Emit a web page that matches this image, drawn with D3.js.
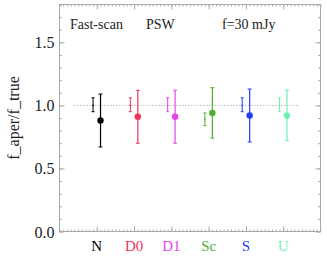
<!DOCTYPE html>
<html>
<head>
<meta charset="utf-8">
<script src="https://cdn.jsdelivr.net/npm/d3@7"></script>
<style>
  html, body { margin: 0; padding: 0; background: #fff; }
  svg { display: block; }
  text { font-family: "Liberation Serif", "Times New Roman", serif; }
</style>
</head>
<body>
<svg id="chart" width="327" height="257"></svg>
<script>
// ---- data ----
const categories = ["N", "D0", "D1", "Sc", "S", "U"];
const colors = ["#000000", "#f0325a", "#e845e8", "#4cb02a", "#1f3ef2", "#6ff0b4"];
// small (left) error bars
const smallVal = [1.00, 1.00, 1.00, 0.89, 1.00, 1.00];
const smallLo  = [0.95, 0.95, 0.95, 0.84, 0.95, 0.95];
const smallHi  = [1.06, 1.06, 1.06, 0.94, 1.06, 1.06];
// large (right) error bars with filled dot
const bigVal = [0.88, 0.91, 0.91, 0.94, 0.92, 0.92];
const bigLo  = [0.67, 0.70, 0.70, 0.74, 0.71, 0.72];
const bigHi  = [1.09, 1.12, 1.12, 1.14, 1.13, 1.12];
const yTicks = [0.0, 0.5, 1.0, 1.5];
const refLine = 1.0;
const annotations = ["Fast-scan", "PSW", "f=30 mJy"];

// ---- layout ----
const svg = d3.select("#chart");
const pL = 59.5, pR = 320.5, pT = 4.5, pB = 231.5;
const x = d3.scaleLinear().domain([0, 7]).range([pL, pR]);
const y = d3.scaleLinear().domain([0, 1.8]).range([pB, pT]);
const axisColor = "#aaaaaa";

// frame
svg.append("rect").attr("x", pL).attr("y", pT)
  .attr("width", pR - pL).attr("height", pB - pT)
  .attr("fill", "none").attr("stroke", axisColor).attr("stroke-width", 1);

function styleAxis(g) {
  g.select(".domain").remove();
  g.selectAll("line").attr("stroke", axisColor);
}
const yMinor = d3.range(0, 19).map(v => v / 10);
svg.append("g").attr("transform", `translate(${pL},0)`)
  .call(d3.axisRight(y).tickValues(yMinor).tickSize(2.5).tickFormat("")).call(styleAxis);
svg.append("g").attr("transform", `translate(${pL},0)`)
  .call(d3.axisRight(y).tickValues(yTicks).tickSize(5).tickFormat("")).call(styleAxis);
svg.append("g").attr("transform", `translate(${pR},0)`)
  .call(d3.axisLeft(y).tickValues(yMinor).tickSize(2.5).tickFormat("")).call(styleAxis);
svg.append("g").attr("transform", `translate(${pR},0)`)
  .call(d3.axisLeft(y).tickValues(yTicks).tickSize(5).tickFormat("")).call(styleAxis);

const xMinor = d3.range(0, 71).map(v => v / 10);
const xMajor = d3.range(1, 7);
svg.append("g").attr("transform", `translate(0,${pB})`)
  .call(d3.axisTop(x).tickValues(xMinor).tickSize(2).tickFormat("")).call(styleAxis);
svg.append("g").attr("transform", `translate(0,${pB})`)
  .call(d3.axisTop(x).tickValues(xMajor).tickSize(5).tickFormat("")).call(styleAxis);
svg.append("g").attr("transform", `translate(0,${pT})`)
  .call(d3.axisBottom(x).tickValues(xMinor).tickSize(2).tickFormat("")).call(styleAxis);
svg.append("g").attr("transform", `translate(0,${pT})`)
  .call(d3.axisBottom(x).tickValues(xMajor).tickSize(5).tickFormat("")).call(styleAxis);

// y tick labels
svg.append("g").selectAll("text").data(yTicks).join("text")
  .attr("x", pL - 5).attr("y", d => y(d) + 6)
  .attr("text-anchor", "end").attr("font-size", 16).attr("fill", "#222")
  .text(d => d.toFixed(1));

// x category labels
svg.append("g").selectAll("text").data(categories).join("text")
  .attr("x", (d, i) => x(i + 1)).attr("y", 251)
  .attr("text-anchor", "middle").attr("font-size", 15)
  .attr("fill", (d, i) => colors[i])
  .text(d => d);

// y axis title
svg.append("text")
  .attr("transform", `translate(19,${(pT + pB) / 2}) rotate(-90)`)
  .attr("text-anchor", "middle").attr("font-size", 16).attr("fill", "#222")
  .text("f_aper/f_true");

// reference dotted line
svg.append("line")
  .attr("x1", x(0.4)).attr("x2", x(6.4))
  .attr("y1", y(refLine)).attr("y2", y(refLine))
  .attr("stroke", "#999").attr("stroke-width", 1).attr("stroke-dasharray", "1,2");

// annotations
const annX = [70, 146, 222];
svg.append("g").selectAll("text").data(annotations).join("text")
  .attr("x", (d, i) => annX[i]).attr("y", 29)
  .attr("font-size", 14).attr("fill", "#222")
  .text(d => d);

// error bars
const off = 0.1, capS = 1.5, capB = 2;
categories.forEach((c, i) => {
  const g = svg.append("g").attr("stroke", colors[i]).attr("fill", colors[i]);
  const xs = x(i + 1 - off), xb = x(i + 1 + off);
  g.append("line").attr("x1", xs).attr("x2", xs).attr("y1", y(smallLo[i])).attr("y2", y(smallHi[i])).attr("stroke-width", 1);
  [smallLo[i], smallHi[i]].forEach(v => g.append("line")
    .attr("x1", xs - capS).attr("x2", xs + capS).attr("y1", y(v)).attr("y2", y(v)).attr("stroke-width", 1));
  g.append("circle").attr("cx", xs).attr("cy", y(smallVal[i])).attr("r", 0.8).attr("stroke", "none");
  g.append("line").attr("x1", xb).attr("x2", xb).attr("y1", y(bigLo[i])).attr("y2", y(bigHi[i])).attr("stroke-width", 1.2);
  [bigLo[i], bigHi[i]].forEach(v => g.append("line")
    .attr("x1", xb - capB).attr("x2", xb + capB).attr("y1", y(v)).attr("y2", y(v)).attr("stroke-width", 1));
  g.append("circle").attr("cx", xb).attr("cy", y(bigVal[i])).attr("r", 3.2).attr("stroke", "none");
});
</script>
</body>
</html>
